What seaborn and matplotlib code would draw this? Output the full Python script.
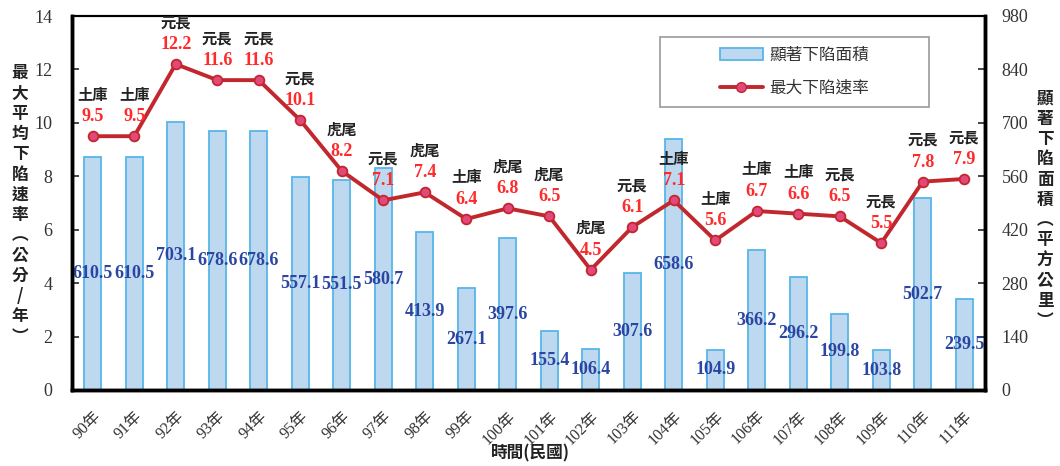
import matplotlib
matplotlib.use("Agg")
import matplotlib.pyplot as plt
import seaborn as sns
import pandas as pd
import numpy as np
from matplotlib.lines import Line2D
from matplotlib.patches import Patch, Rectangle

years = ["90年", "91年", "92年", "93年", "94年", "95年", "96年", "97年", "98年", "99年", "100年",
         "101年", "102年", "103年", "104年", "105年", "106年", "107年", "108年", "109年", "110年", "111年"]
area = [610.5, 610.5, 703.1, 678.6, 678.6, 557.1, 551.5, 580.7, 413.9, 267.1, 397.6,
        155.4, 106.4, 307.6, 658.6, 104.9, 366.2, 296.2, 199.8, 103.8, 502.7, 239.5]
rate = [9.5, 9.5, 12.2, 11.6, 11.6, 10.1, 8.2, 7.1, 7.4, 6.4, 6.8,
        6.5, 4.5, 6.1, 7.1, 5.6, 6.7, 6.6, 6.5, 5.5, 7.8, 7.9]
sites = ["土庫", "土庫", "元長", "元長", "元長", "元長", "虎尾", "元長", "虎尾", "土庫", "虎尾",
         "虎尾", "虎尾", "元長", "土庫", "土庫", "土庫", "土庫", "元長", "元長", "元長", "元長"]

sns.set_theme(style="white")
FAM = ["Liberation Serif", "Noto Sans CJK TC", "DejaVu Sans"]
CJK = ["Noto Sans CJK TC", "DejaVu Sans"]
plt.rcParams["font.family"] = FAM

df = pd.DataFrame({"year": years, "area": area, "rate": rate, "pos": np.arange(len(years))})

fig = plt.figure(figsize=(10.6, 4.66), dpi=100)
ax = fig.add_axes([72 / 1060, 1 - 390 / 466, (985 - 72) / 1060, (390 - 16) / 466])
ax2 = ax.twinx()

sns.barplot(data=df, x="pos", y="area", ax=ax2, color="#bdd8ef", width=0.42,
            edgecolor="#56b6e8", linewidth=1.3, saturation=1, native_scale=True)
sns.lineplot(data=df, x="pos", y="rate", ax=ax, color="#c1272d", linewidth=2.8,
             marker="o", markersize=7, markerfacecolor="#e2487c", markeredgecolor="#c1272d",
             markeredgewidth=1.3)

ax.set_zorder(ax2.get_zorder() + 1)
ax.patch.set_visible(False)

ax.set_xlim(-0.5, len(years) - 0.5)
ax.set_ylim(0, 14)
ax2.set_ylim(0, 980)
ax.set_yticks(np.arange(0, 15, 2))
ax2.set_yticks(np.arange(0, 981, 140))

ax.set_xticks(np.arange(len(years)))
ax.set_xticklabels(years, rotation=45, ha="right", rotation_mode="anchor", fontsize=11.5,
                   color="#333333")
ax.set_xticks(np.arange(-0.5, len(years), 1), minor=True)
ax.tick_params(axis="x", which="major", length=0, pad=13)
ax.tick_params(axis="x", which="minor", length=5, width=1.2, direction="in", color="black")
ax.tick_params(axis="y", length=5, width=1.2, direction="in", labelsize=13, labelcolor="#333333", pad=14)
ax2.tick_params(axis="y", length=5, width=1.2, direction="in", labelsize=13, labelcolor="#333333", pad=12)
ax.set_xlabel("")
ax.set_ylabel("")
ax2.set_xlabel("")
ax2.set_ylabel("")

for a in (ax, ax2):
    for s in a.spines.values():
        s.set_color("black")
        s.set_linewidth(2.5)
    a.spines["top"].set_linewidth(1.5)

# bar value labels
for i, v in enumerate(area):
    ax2.text(i, v / 2, f"{v:.1f}", ha="center", va="center", fontsize=13, fontweight="bold",
             color="#2b45a3", family=FAM, zorder=5)

# rate labels and site names
for i, (r, s) in enumerate(zip(rate, sites)):
    ax.annotate(f"{r:.1f}", (i, r), xytext=(0, 14), textcoords="offset points", ha="center",
                va="center", fontsize=13, fontweight="bold", color="#ff2a2a", family=FAM)
    ax.annotate(s, (i, r), xytext=(0, 30), textcoords="offset points", ha="center",
                va="center", fontsize=11, fontweight="bold", color="#222222", family=CJK)

# vertical axis titles
left_lbl = "\n".join(list("最大平均下陷速率") + ["︵", "公", "分", "/", "年", "︶"])
fig.text(20 / 1060, 1 - 205 / 466, left_lbl, ha="center", va="center", fontsize=12,
         fontweight="bold", family=CJK, linespacing=1.16, color="#222222")
right_lbl = "\n".join(list("顯著下陷面積") + ["︵", "平", "方", "公", "里", "︶"])
fig.text(1045 / 1060, 1 - 210 / 466, right_lbl, ha="center", va="center", fontsize=12,
         fontweight="bold", family=CJK, linespacing=1.16, color="#222222")

fig.text(530 / 1060, 1 - 453 / 466, "時間(民國)", ha="center", va="center", fontsize=12,
         fontweight="bold", family=CJK, color="#222222")

# legend: frame drawn as a figure rectangle, entries centered inside
fig.patches.append(Rectangle((660 / 1060, 1 - 107 / 466), (929 - 660) / 1060, 70 / 466,
                             transform=fig.transFigure, facecolor="white", edgecolor="#999999",
                             linewidth=1.2, zorder=10))
handles = [Patch(facecolor="#bdd8ef", edgecolor="#56b6e8", linewidth=1.3),
           Line2D([0], [0], color="#c1272d", linewidth=2.8, marker="o", markersize=7,
                  markerfacecolor="#e2487c", markeredgecolor="#c1272d")]
leg = fig.legend(handles, ["顯著下陷面積", "最大下陷速率"], loc="center",
                 bbox_to_anchor=((660 + 929) / 2 / 1060, 1 - 72 / 466), frameon=False,
                 prop={"family": CJK, "size": 12}, handlelength=2.6, borderpad=0.3,
                 labelspacing=0.95, handletextpad=0.4, borderaxespad=0)
leg.set_zorder(11)
for t in leg.get_texts():
    t.set_color("#333333")

fig.savefig("out.png", dpi=100)
